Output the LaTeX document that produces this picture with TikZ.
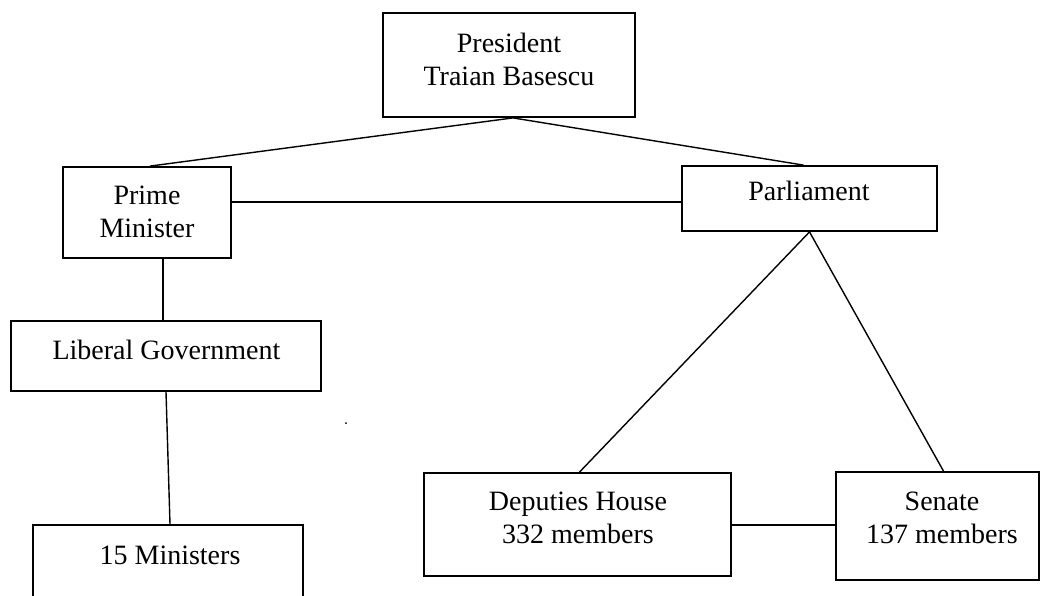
\documentclass[tikz,border=0pt]{standalone}
\usepackage{fontspec}
\setmainfont{Liberation Serif}
\begin{document}
\begin{tikzpicture}[x=1pt,y=-1pt,
  box/.style={draw=black, line width=1.8pt, inner sep=0pt},
  lbl/.style={font=\fontsize{28}{33}\selectfont, align=center, inner sep=0pt},
  conn/.style={draw=black, line width=1.4pt}]
\useasboundingbox (0,0) rectangle (1041,595);
\clip (0,0) rectangle (1041,595);
% boxes
\node[box, minimum width=252pt, minimum height=104pt] (pres) at (509,65) {};
\node[box, minimum width=168pt, minimum height=91pt] (pm) at (147,212.5) {};
\node[box, minimum width=255pt, minimum height=65pt] (parl) at (809.5,198.5) {};
\node[box, minimum width=310pt, minimum height=70pt] (lg) at (166,356) {};
\node[box, minimum width=270pt, minimum height=100pt] (min) at (168,575) {};
\node[box, minimum width=307pt, minimum height=103pt] (dep) at (577.5,524.5) {};
\node[box, minimum width=203pt, minimum height=108pt] (sen) at (937.5,526) {};
% texts
\node[lbl] (presT) at (509,59) {President\\Traian Basescu};
\node[lbl] (pmT) at (147,212) {Prime\\Minister};
\node[lbl] (parlT) at (809,191) {Parliament};
\node[lbl] (lgT) at (166.5,350) {Liberal Government};
\node[lbl] (minT) at (170,555) {15 Ministers};
\node[lbl] (depT) at (578,518) {Deputies House\\332 members};
\node[lbl] (senT) at (942,518) {Senate\\137 members};
% connectors
\draw[conn] ([xshift=4pt]pres.south) -- ([xshift=3pt]pm.north);
\draw[conn] ([xshift=4pt]pres.south) -- ([xshift=-6pt]parl.north);
\draw[conn] (pm.east |- 0,202) -- (parl.west |- 0,202);
\draw[conn] (pm.south -| 163,0) -- (lg.north -| 163,0);
\draw[conn] (lg.south) -- ([xshift=2pt]min.north);
\draw[conn] (parl.south) -- ([xshift=2pt]dep.north);
\draw[conn] (parl.south) -- ([xshift=6pt]sen.north);
\draw[conn] (dep.east |- 0,525) -- (sen.west |- 0,525);
% stray dot
\fill[black] (346,423) circle (1pt);
\end{tikzpicture}
\end{document}
